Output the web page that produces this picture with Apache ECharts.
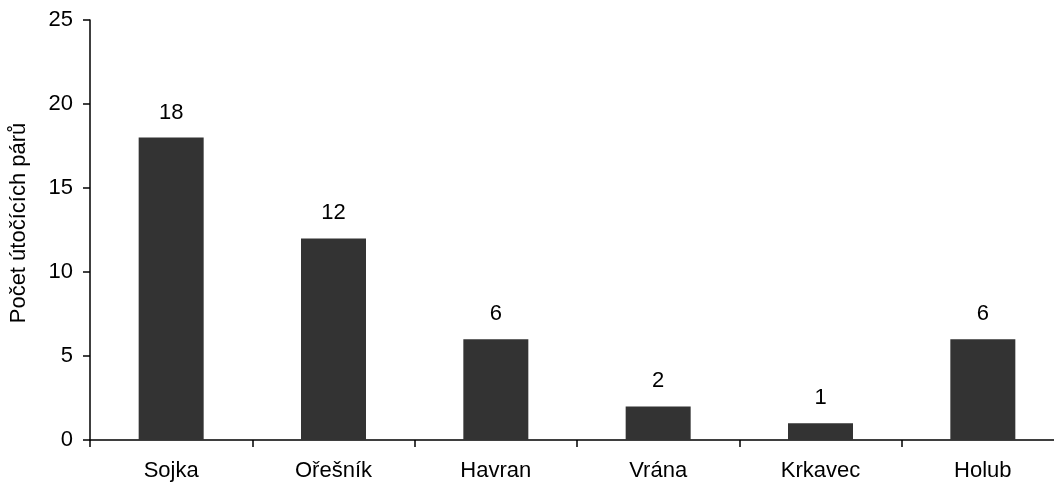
<!DOCTYPE html>
<html><head><meta charset="utf-8">
<script src="https://cdn.jsdelivr.net/npm/echarts@6/dist/echarts.min.js"></script>
<style>html,body{margin:0;padding:0;background:#fff}#c{width:1054px;height:484px}</style>
</head><body><div id="c"></div>
<script>
const categories = ["Sojka", "Ořešník", "Havran", "Vrána", "Krkavec", "Holub"];
const values = [18, 12, 6, 2, 1, 6];
const yTicks = [0, 5, 10, 15, 20, 25];
const yName = "Počet útočících párů";

const font = "Liberation Sans, Arial, sans-serif";
const chart = echarts.init(document.getElementById('c'), null, {renderer: 'canvas'});
chart.setOption({
  animation: false,
  grid: {left: 90, top: 20, width: 974, height: 420, containLabel: false, outerBoundsMode: 'none'},
  xAxis: {
    type: 'category', data: categories,
    axisLine: {lineStyle: {color: '#000', width: 1.5}},
    axisTick: {show: true, alignWithLabel: false, length: 7, lineStyle: {color: '#000', width: 1.5}},
    axisLabel: {color: '#000', fontSize: 22, fontFamily: font, margin: 20}
  },
  yAxis: {
    type: 'value', min: yTicks[0], max: yTicks[yTicks.length - 1], interval: 5,
    name: yName, nameLocation: 'middle', nameGap: 60, nameRotate: 90,
    nameTextStyle: {color: '#000', fontSize: 22, fontFamily: font, padding: [0, 0, 0, 14]},
    axisLine: {show: true, lineStyle: {color: '#000', width: 1.5}},
    axisTick: {show: true, length: 7, lineStyle: {color: '#000', width: 1.5}},
    axisLabel: {color: '#000', fontSize: 22, fontFamily: font, margin: 17},
    splitLine: {show: false}
  },
  series: [{
    type: 'bar', data: values, barWidth: 65,
    itemStyle: {color: '#333333'},
    label: {show: true, position: 'top', distance: 14, color: '#000', fontSize: 22, fontFamily: font}
  }]
});
</script></body></html>
